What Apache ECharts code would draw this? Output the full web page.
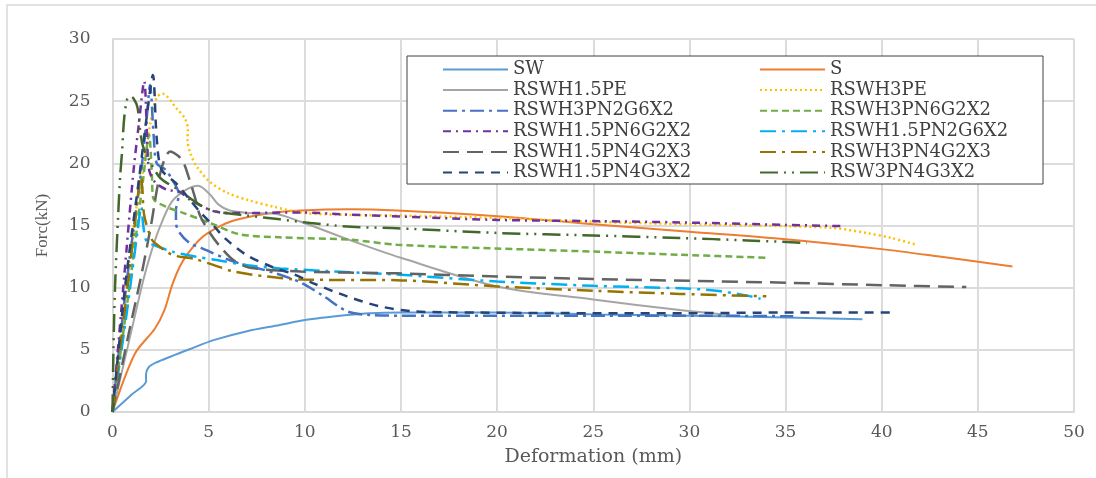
<!DOCTYPE html>
<html>
<head>
<meta charset="utf-8">
<script src="https://cdn.jsdelivr.net/npm/echarts@6/dist/echarts.min.js"></script>
<style>
  html, body { margin: 0; padding: 0; background: #fff; }
  #chart { width: 1096px; height: 478px; }
</style>
</head>
<body>
<div id="chart"></div>
<script>
// force (kN) vs deformation (mm)
const sw = [[0,0],[1.0,1.4],[1.75,2.5],[1.74,3.0],[1.88,3.6],[2.3,4.0],[3.1,4.5],[4,5.05],[5.3,5.8],[7,6.5],[8.7,7.0],[10,7.4],[12.2,7.8],[13.4,7.95],[15,8.0],[20,8.0],[25,7.85],[30,7.75],[35,7.6],[39,7.45]];
const s = [[0,0],[1.17,4.7],[2.2,6.7],[2.7,8.2],[3.1,10.2],[3.5,11.7],[3.9,12.7],[4.55,13.9],[5.3,14.7],[6.3,15.4],[8,15.95],[9.8,16.2],[12.4,16.3],[14.8,16.2],[20,15.75],[25,15.1],[30,14.5],[35,13.9],[40,13.1],[43,12.5],[46.8,11.7]];
const rswh15pe = [[0,0],[0.8,5.3],[1.6,10.6],[2.0,12.8],[2.47,14.9],[3.08,16.9],[3.86,17.9],[4.45,18.2],[5.07,17.5],[5.5,16.7],[6.1,16.2],[7.15,16.0],[8.4,15.95],[9.8,15.3],[12.3,13.85],[15,12.4],[20,10.1],[25,9.05],[29.5,8.2],[32.1,7.8]];
const rswh3pe = [[0,0],[0.6,8.5],[1.2,16],[1.6,19.5],[2.0,23.5],[2.3,25.3],[2.6,25.6],[3.34,24.4],[3.77,23.6],[3.92,22.7],[3.9,21.9],[4.05,20.8],[4.4,19.7],[5.07,18.5],[6.0,17.6],[7.15,17.0],[8.4,16.5],[10,16.0],[12.4,15.85],[15,15.8],[20,15.6],[25,15.3],[30,15.1],[35,14.95],[37.5,14.8],[39.2,14.4],[40.5,14.0],[41.8,13.45]];
const rswh3pn2g6x2 = [[0,0],[0.7,10],[1.5,19.5],[1.8,24],[1.95,26.3],[2.15,22],[2.3,20],[2.75,19.5],[3.1,18.7],[3.45,17.5],[3.3,16.2],[3.3,15.2],[3.5,14.4],[4.0,13.6],[4.6,13.2],[6.3,12.1],[8.4,11.2],[9.8,10.4],[11,9.3],[12.2,8.1],[13.4,7.8],[15,7.75],[20,7.75],[25,7.75],[30,7.75],[35.4,7.7]];
const rswh3pn6g2x2 = [[0,0],[1.0,11.5],[1.6,18.8],[1.9,22.3],[2.05,19],[2.12,17.2],[2.8,16.5],[3.7,16.0],[5.07,15.2],[6.6,14.3],[8.7,14.05],[12.4,13.85],[14.8,13.45],[20,13.15],[25,12.9],[29.5,12.65],[34.1,12.4]];
const rswh15pn6g2x2 = [[0,0],[0.56,10],[1.08,19.2],[1.35,22.9],[1.65,26.6],[1.8,22],[1.9,19.5],[2.2,18.5],[2.8,17.9],[3.5,17.7],[4.0,17.1],[5.4,16.1],[6.6,16.0],[9.8,16.05],[12,15.9],[20,15.45],[25.4,15.35],[29.5,15.25],[35,15.05],[38,14.95]];
const rswh15pn2g6x2 = [[0,0],[0.7,7.5],[1.3,14.5],[1.5,16.5],[1.6,15],[1.78,13.7],[2.2,13.4],[3.1,12.9],[4.3,12.5],[5.5,12.2],[7,11.8],[8.7,11.55],[11,11.35],[14.8,11.05],[20,10.5],[25,10.15],[29.5,9.95],[31.4,9.75],[33.2,9.3],[33.7,9.1]];
const rswh15pn4g2x3 = [[0,0],[0.8,6],[1.5,11],[2.0,15],[2.5,19.3],[3.0,20.95],[3.6,20.3],[4.0,18.7],[4.3,17.2],[4.55,15.8],[5.07,14.4],[5.6,13.3],[6.3,12.2],[7.15,11.6],[9.8,11.3],[14.8,11.15],[20,10.9],[25,10.7],[30,10.55],[35,10.4],[40,10.2],[44.4,10.05]];
const rswh3pn4g2x3 = [[0,0],[0.7,9],[1.3,17],[1.45,19.3],[1.55,18.0],[1.65,15.8],[2.0,14.0],[2.2,13.6],[3.1,12.65],[4.3,12.3],[5.2,11.85],[6.3,11.3],[8,10.9],[9.8,10.65],[14.8,10.6],[20,10.1],[25,9.75],[29.5,9.5],[34,9.3]];
const rswh15pn4g3x2 = [[0,0],[0.65,10],[1.4,19],[1.8,24],[2.1,27.1],[2.3,22],[2.55,19.5],[3.3,18.4],[3.9,17.3],[4.6,16.0],[5.3,14.9],[5.9,13.9],[7,12.6],[8.4,11.6],[9.4,11.1],[10.45,10.35],[12.2,9.3],[13.9,8.5],[15.6,8.1],[19,8.0],[25,7.95],[30,7.95],[35,8.0],[40.5,8.0]];
const rsw3pn4g3x2 = [[0,0],[0.05,5],[0.13,10],[0.3,16],[0.4,19],[0.5,21],[0.6,23.5],[0.75,25.1],[0.9,25.4],[1.1,25.2],[1.3,24.5],[1.45,22.5],[1.6,21.3],[2.0,20],[2.5,18.8],[3.4,17.9],[4.5,16.7],[5.3,16.15],[7,15.8],[8.7,15.5],[10.3,15.2],[12.4,14.9],[14.8,14.78],[20,14.4],[25,14.2],[29.5,14.0],[33,13.8],[36.1,13.6]];

const legendLeft = ['SW', 'RSWH1.5PE', 'RSWH3PN2G6X2', 'RSWH1.5PN6G2X2', 'RSWH1.5PN4G2X3', 'RSWH1.5PN4G3X2'];
const legendRight = ['S', 'RSWH3PE', 'RSWH3PN6G2X2', 'RSWH1.5PN2G6X2', 'RSWH3PN4G2X3', 'RSW3PN4G3X2'];

const chart = echarts.init(document.getElementById('chart'));

function line(name, data, color, type, width) {
  return {
    name: name,
    type: 'line',
    data: data,
    smooth: 0.3,
    symbol: 'none',
    lineStyle: { color: color, width: width || 2, type: type || 'solid' },
    itemStyle: { color: color }
  };
}

const legendText = { fontFamily: 'DejaVu Serif', fontSize: 18, color: '#404040', lineHeight: 17 };
const tickFont = { fontFamily: 'DejaVu Serif', fontSize: 17, color: '#595959' };

// symbols hidden in the legend, only the line sample stays
const legendBase = {
  orient: 'vertical', top: 55.5, itemWidth: 65, itemHeight: 14, itemGap: 2.6,
  selectedMode: false, textStyle: legendText, itemStyle: { opacity: 0 }, z: 5
};

chart.setOption({
  animation: false,
  grid: { left: 112.5, right: 22, top: 39, bottom: 66 },
  graphic: [
    { type: 'rect', shape: { x: 7, y: 5, width: 1200, height: 600 }, style: { fill: 'none', stroke: '#d9d9d9', lineWidth: 1.5 }, z: 0 },
    { type: 'rect', shape: { x: 407, y: 56, width: 636, height: 128 }, style: { fill: '#fff', stroke: '#404040', lineWidth: 1 }, z: 3 }
  ],
  legend: [
    Object.assign({ data: legendLeft, left: 437 }, legendBase),
    Object.assign({ data: legendRight, left: 754 }, legendBase)
  ],
  xAxis: {
    type: 'value', min: 0, max: 50, interval: 5,
    name: 'Deformation (mm)', nameLocation: 'middle', nameGap: 36,
    nameTextStyle: { fontFamily: 'DejaVu Serif', fontSize: 19, color: '#595959' },
    axisLine: { lineStyle: { color: '#d9d9d9', width: 2 } },
    axisTick: { show: false },
    axisLabel: Object.assign({ margin: 12 }, tickFont),
    splitLine: { show: true, lineStyle: { color: '#dcdcdc', width: 2 } }
  },
  yAxis: {
    type: 'value', min: 0, max: 30, interval: 5,
    name: 'Forc(kN)', nameLocation: 'middle', nameGap: 61, nameRotate: 90,
    nameTextStyle: { fontFamily: 'Liberation Serif', fontSize: 17, color: '#595959' },
    axisLine: { show: true, lineStyle: { color: '#d9d9d9', width: 2 } },
    axisTick: { show: false },
    axisLabel: Object.assign({ margin: 22 }, tickFont),
    splitLine: { show: true, lineStyle: { color: '#dcdcdc', width: 2 } }
  },
  series: [
    line('SW', sw, '#5B9BD5'),
    line('S', s, '#ED7D31'),
    line('RSWH1.5PE', rswh15pe, '#A5A5A5'),
    line('RSWH3PE', rswh3pe, '#FFC000', [2, 3], 2.5),
    line('RSWH3PN2G6X2', rswh3pn2g6x2, '#4472C4', [14, 5, 3, 5], 2.5),
    line('RSWH3PN6G2X2', rswh3pn6g2x2, '#70AD47', [7, 4], 2.5),
    line('RSWH1.5PN6G2X2', rswh15pn6g2x2, '#7030A0', [8, 5, 2, 5], 2.5),
    line('RSWH1.5PN2G6X2', rswh15pn2g6x2, '#00B0F0', [16, 6, 3, 6], 2.5),
    line('RSWH1.5PN4G2X3', rswh15pn4g2x3, '#636363', [16, 8], 2.5),
    line('RSWH3PN4G2X3', rswh3pn4g2x3, '#997300', [16, 6, 3, 6], 2.5),
    line('RSWH1.5PN4G3X2', rswh15pn4g3x2, '#264478', [9, 7], 2.5),
    line('RSW3PN4G3X2', rsw3pn4g3x2, '#43682B', [18, 6, 2, 6, 2, 6], 2.5)
  ]
});
</script>
</body>
</html>
